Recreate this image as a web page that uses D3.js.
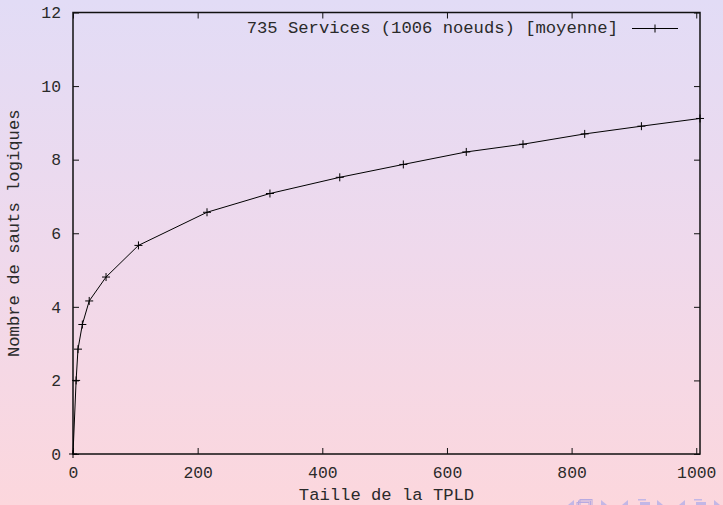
<!DOCTYPE html>
<html>
<head>
<meta charset="utf-8">
<script src="https://cdn.jsdelivr.net/npm/d3@7"></script>
<style>
  body { margin: 0; }
  svg { display: block; }
  text { font-family: "Liberation Mono", "DejaVu Sans Mono", monospace; fill: #2a2a2a; }
</style>
</head>
<body>
<svg id="chart" width="723" height="505"></svg>
<script>
// TPLD size vs mean logical hops
var tpldSize = [0, 5, 8, 15, 26, 53, 105, 215, 316, 428, 530, 631, 722, 821, 912, 1006];
var hops = [0, 2.0, 2.85, 3.52, 4.16, 4.81, 5.67, 6.57, 7.08, 7.52, 7.87, 8.21, 8.42, 8.70, 8.91, 9.12];
var xTicks = [0, 200, 400, 600, 800, 1000];
var yTicks = [0, 2, 4, 6, 8, 10, 12];
var legendLabel = "735 Services (1006 noeuds) [moyenne]";

var W = 723, H = 505;
var plotL = 73, plotR = 700, plotT = 12.5, plotB = 454;
var tickLen = 6;

var svg = d3.select("#chart");

// beamer-ish background
var grad = svg.append("defs").append("linearGradient")
	.attr("id", "bg").attr("x1", 0).attr("y1", 0).attr("x2", 0).attr("y2", 1);
grad.append("stop").attr("offset", "0%").attr("stop-color", "#e2dcf6");
grad.append("stop").attr("offset", "50%").attr("stop-color", "#efd9ec");
grad.append("stop").attr("offset", "100%").attr("stop-color", "#fcd7dd");
svg.append("rect").attr("width", W).attr("height", H).attr("fill", "url(#bg)");

var x = d3.scaleLinear().domain([0, 1006]).range([plotL, plotR]);
var y = d3.scaleLinear().domain([0, 12]).range([plotB, plotT]);

// ticks on all four sides, pointing inward (gnuplot mirror)
var g = svg.append("g");
g.append("g").attr("transform", "translate(0," + plotB + ")")
	.call(d3.axisBottom(x).tickValues(xTicks).tickFormat(d3.format("d"))
		.tickSizeInner(-tickLen).tickSizeOuter(0).tickPadding(12));
g.append("g").attr("transform", "translate(0," + plotT + ")")
	.call(d3.axisTop(x).tickValues(xTicks).tickSizeInner(-tickLen).tickSizeOuter(0).tickFormat(""));
g.append("g").attr("transform", "translate(" + plotL + ",0)")
	.call(d3.axisLeft(y).tickValues(yTicks).tickSizeInner(-tickLen).tickSizeOuter(0).tickPadding(12));
g.append("g").attr("transform", "translate(" + plotR + ",0)")
	.call(d3.axisRight(y).tickValues(yTicks).tickSizeInner(-tickLen).tickSizeOuter(0).tickFormat(""));

g.selectAll(".domain").remove();
g.selectAll(".tick line").attr("stroke", "#111").attr("stroke-width", 1);
g.selectAll(".tick text")
	.style("font-family", "'Liberation Mono', monospace")
	.style("font-size", "16.4px")
	.attr("fill", "#2a2a2a");

// frame
svg.append("rect")
	.attr("x", plotL).attr("y", plotT)
	.attr("width", plotR - plotL).attr("height", plotB - plotT)
	.attr("fill", "none").attr("stroke", "#111").attr("stroke-width", 1.5);

// curve
var pts = tpldSize.map(function (d, i) { return [d, hops[i]]; });
svg.append("path")
	.datum(pts)
	.attr("d", d3.line().x(function (d) { return x(d[0]); }).y(function (d) { return y(d[1]); }))
	.attr("fill", "none").attr("stroke", "#000").attr("stroke-width", 1);

svg.selectAll(".pt").data(pts).enter().append("path")
	.attr("class", "pt")
	.attr("transform", function (d) { return "translate(" + x(d[0]) + "," + y(d[1]) + ")"; })
	.attr("d", "M-4,0H4M0,-4V4")
	.attr("stroke", "#000").attr("stroke-width", 1).attr("fill", "none");

// legend
svg.append("text")
	.attr("x", 618).attr("y", 33)
	.attr("text-anchor", "end")
	.style("font-size", "17.2px")
	.text(legendLabel);
svg.append("line")
	.attr("x1", 632).attr("x2", 678).attr("y1", 28.5).attr("y2", 28.5)
	.attr("stroke", "#000").attr("stroke-width", 1);
svg.append("path")
	.attr("transform", "translate(655,28.5)")
	.attr("d", "M-4,0H4M0,-4V4")
	.attr("stroke", "#000").attr("stroke-width", 1);

// axis titles
svg.append("text")
	.attr("x", (plotL + plotR) / 2).attr("y", 500)
	.attr("text-anchor", "middle")
	.style("font-size", "17.2px")
	.text("Taille de la TPLD");
svg.append("text")
	.attr("transform", "translate(19," + (plotT + plotB) / 2 + ") rotate(-90)")
	.attr("text-anchor", "middle")
	.style("font-size", "17.2px")
	.text("Nombre de sauts logiques");

// navigation symbols, mostly cut off at the bottom edge
var nav = svg.append("g").attr("fill", "#bdb4e8").attr("opacity", 0.9);
var triL = [571, 625, 682], triR = [604, 660, 717];
triL.forEach(function (cx) {
	nav.append("path").attr("d", "M" + (cx + 3) + ",500L" + (cx - 3) + ",505L" + (cx + 3) + ",505Z");
});
triR.forEach(function (cx) {
	nav.append("path").attr("d", "M" + (cx - 3) + ",500L" + (cx + 3) + ",505L" + (cx - 3) + ",505Z");
});
[0, 1.5, 3].forEach(function (o) {
	nav.append("rect").attr("x", 580 - o).attr("y", 499.5 + o).attr("width", 12).attr("height", 6)
		.attr("fill", "none").attr("stroke", "#b0a6e2").attr("stroke-width", 1);
});
[638, 694].forEach(function (cx) {
	nav.append("rect").attr("x", cx).attr("y", 499).attr("width", 8).attr("height", 1.5);
	nav.append("rect").attr("x", cx + 2).attr("y", 502).attr("width", 10).attr("height", 3);
});
</script>
</body>
</html>
